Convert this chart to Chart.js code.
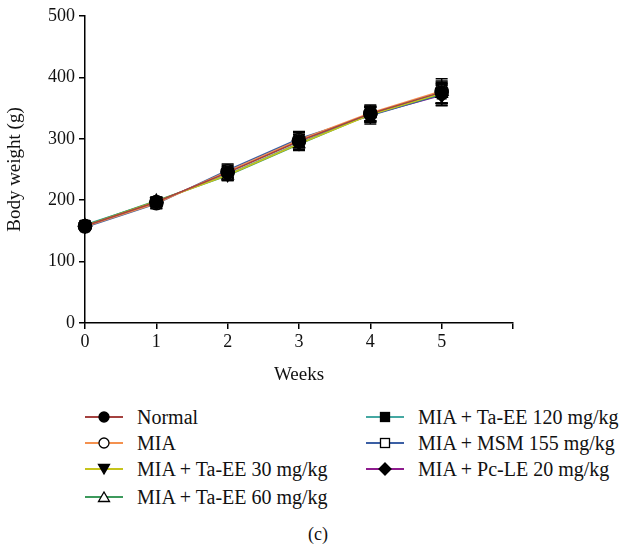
<!DOCTYPE html>
<html>
<head>
<meta charset="utf-8">
<script src="https://cdn.jsdelivr.net/npm/chart.js@4/dist/chart.umd.min.js"></script>
<style>
  body { margin: 0; background: #fff; }
  #wrap { position: relative; width: 627px; height: 549px; overflow: hidden; font-family: "Liberation Serif", "Times New Roman", serif; color: #111; }
  #chart { position: absolute; left: 0; top: 0; }
  .item { position: absolute; height: 26px; display: flex; align-items: center; font-size: 20px; white-space: nowrap; }
  .item svg { margin-right: 14px; }
  #cap { position: absolute; left: 0; width: 636px; top: 524px; line-height: 20px; text-align: center; font-size: 18px; }
</style>
</head>
<body>
<div id="wrap">
  <canvas id="chart" width="627" height="390"></canvas>
  <div id="legend"></div>
  <div id="cap">(c)</div>
</div>
<script>
const weeks = [0, 1, 2, 3, 4, 5];
const seriesNames = [
  "Normal",
  "MIA",
  "MIA + Ta-EE 30 mg/kg",
  "MIA + Ta-EE 60 mg/kg",
  "MIA + Ta-EE 120 mg/kg",
  "MIA + MSM 155 mg/kg",
  "MIA + Pc-LE 20 mg/kg",
];
const normal = [158, 197, 245, 296, 341, 376];
const mia = [157, 195, 247, 298, 342, 378];
const taee30 = [158, 198, 241, 292, 339, 374];
const taee60 = [159, 199, 240, 291, 340, 373];
const taee120 = [160, 198, 242, 293, 341, 375];
const msm155 = [156, 194, 249, 300, 338, 372];
const pcle20 = [157, 196, 246, 297, 339, 371];
const errNormal = [5, 7, 9, 11, 12, 18];
const errMia = [6, 8, 10, 12, 13, 20];
const err30 = [5, 7, 9, 10, 12, 16];
const err60 = [5, 6, 8, 10, 11, 15];
const err120 = [6, 7, 9, 11, 12, 17];
const errMsm = [5, 8, 10, 12, 14, 18];
const errPcle = [5, 7, 9, 10, 12, 16];
const yTicks = [0, 100, 200, 300, 400, 500];

const values = [normal, mia, taee30, taee60, taee120, msm155, pcle20];
const errors = [errNormal, errMia, err30, err60, err120, errMsm, errPcle];
const colors = ["#a4413f", "#f4914f", "#c6c41c", "#3d9a5c", "#45a8a2", "#3b5fa4", "#8e1b8e"];
const styles = ["circle", "circle", "triangle", "triangle", "rect", "rect", "rectRot"];
const filled = [true, false, true, false, true, false, true];
const rotations = [0, 0, 180, 0, 0, 0, 0];
const FONT = "'Liberation Serif', 'Times New Roman', serif";

const datasets = values.map((v, i) => ({
  label: seriesNames[i],
  data: v.map((y, j) => ({ x: weeks[j], y: y })),
  borderColor: colors[i],
  borderWidth: 1.5,
  pointStyle: styles[i],
  pointRotation: rotations[i],
  pointRadius: styles[i] === "rect" ? 6 : 6.5,
  pointBackgroundColor: filled[i] ? "#000" : "#fff",
  pointBorderColor: "#000",
  pointBorderWidth: 1.5,
  tension: 0,
  fill: false,
  clip: false,
}));

const errorBars = {
  id: "errorBars",
  beforeDatasetsDraw(chart) {
    const ctx = chart.ctx;
    const xs = chart.scales.x;
    const ys = chart.scales.y;
    ctx.save();
    ctx.strokeStyle = "#000";
    ctx.lineWidth = 1.5;
    values.forEach((v, i) => {
      v.forEach((y, j) => {
        const px = xs.getPixelForValue(weeks[j]);
        const top = ys.getPixelForValue(y + errors[i][j]);
        const bot = ys.getPixelForValue(y - errors[i][j]);
        ctx.beginPath();
        ctx.moveTo(px, top);
        ctx.lineTo(px, bot);
        ctx.moveTo(px - 6, top);
        ctx.lineTo(px + 6, top);
        ctx.moveTo(px - 6, bot);
        ctx.lineTo(px + 6, bot);
        ctx.stroke();
      });
    });
    ctx.restore();
  },
};

new Chart(document.getElementById("chart"), {
  type: "line",
  data: { datasets: datasets },
  plugins: [errorBars],
  options: {
    responsive: false,
    animation: false,
    layout: { padding: { top: 16, right: 114, left: 0, bottom: 0 } },
    plugins: { legend: { display: false }, tooltip: { enabled: false } },
    scales: {
      x: {
        type: "linear",
        min: 0,
        max: 6,
        afterFit: (s) => { s.height = 67; },
        afterBuildTicks: (s) => { s.ticks = [0, 1, 2, 3, 4, 5, 6].map((v) => ({ value: v })); },
        ticks: {
          color: "#111",
          font: { family: FONT, size: 18 },
          padding: 2,
          callback: (v) => (v <= 5 ? String(v) : ""),
        },
        grid: { drawOnChartArea: false, drawTicks: true, tickLength: 6, color: "#000", lineWidth: 1.5 },
        border: { color: "#000", width: 1.5 },
        title: { display: true, text: "Weeks", color: "#111", font: { family: FONT, size: 19 }, padding: { top: 12 } },
      },
      y: {
        min: 0,
        max: 500,
        afterFit: (s) => { s.width = 85; },
        afterBuildTicks: (s) => { s.ticks = yTicks.map((v) => ({ value: v })); },
        ticks: { color: "#111", font: { family: FONT, size: 18 }, padding: 4 },
        grid: { drawOnChartArea: false, drawTicks: true, tickLength: 6, color: "#000", lineWidth: 1.5 },
        border: { color: "#000", width: 1.5 },
        title: { display: true, text: "Body weight (g)", color: "#111", font: { family: FONT, size: 19 }, padding: { bottom: 4 } },
      },
    },
  },
});

// legend in two columns, like the figure
const legend = document.getElementById("legend");
const cols = [[0, 1, 2, 3], [4, 5, 6]];
const colLeft = [85, 366];
const rowTop = [404, 430, 456, 484];
const markerSvg = (i) => {
  const fill = filled[i] ? "#000" : "#fff";
  const c = 19, m = 13;
  let shape = "";
  if (styles[i] === "circle") shape = `<circle cx="${c}" cy="${m}" r="5" fill="${fill}" stroke="#000" stroke-width="1.3"/>`;
  else if (styles[i] === "rect") shape = `<rect x="${c - 4.5}" y="${m - 4.5}" width="9" height="9" fill="${fill}" stroke="#000" stroke-width="1.3"/>`;
  else if (styles[i] === "rectRot") shape = `<polygon points="${c},${m - 6} ${c + 6},${m} ${c},${m + 6} ${c - 6},${m}" fill="${fill}" stroke="#000" stroke-width="1.3"/>`;
  else if (rotations[i] === 180) shape = `<polygon points="${c - 5.5},${m - 4.5} ${c + 5.5},${m - 4.5} ${c},${m + 5}" fill="${fill}" stroke="#000" stroke-width="1.3"/>`;
  else shape = `<polygon points="${c - 5.5},${m + 4.5} ${c + 5.5},${m + 4.5} ${c},${m - 5}" fill="${fill}" stroke="#000" stroke-width="1.3"/>`;
  return `<svg width="38" height="26"><line x1="0" y1="${m}" x2="38" y2="${m}" stroke="${colors[i]}" stroke-width="1.8"/>${shape}</svg>`;
};
cols.forEach((col, ci) => {
  col.forEach((i, ri) => {
    const d = document.createElement("div");
    d.className = "item";
    d.style.left = colLeft[ci] + "px";
    d.style.top = rowTop[ri] + "px";
    d.innerHTML = markerSvg(i) + "<span>" + seriesNames[i] + "</span>";
    legend.appendChild(d);
  });
});
</script>
</body>
</html>
